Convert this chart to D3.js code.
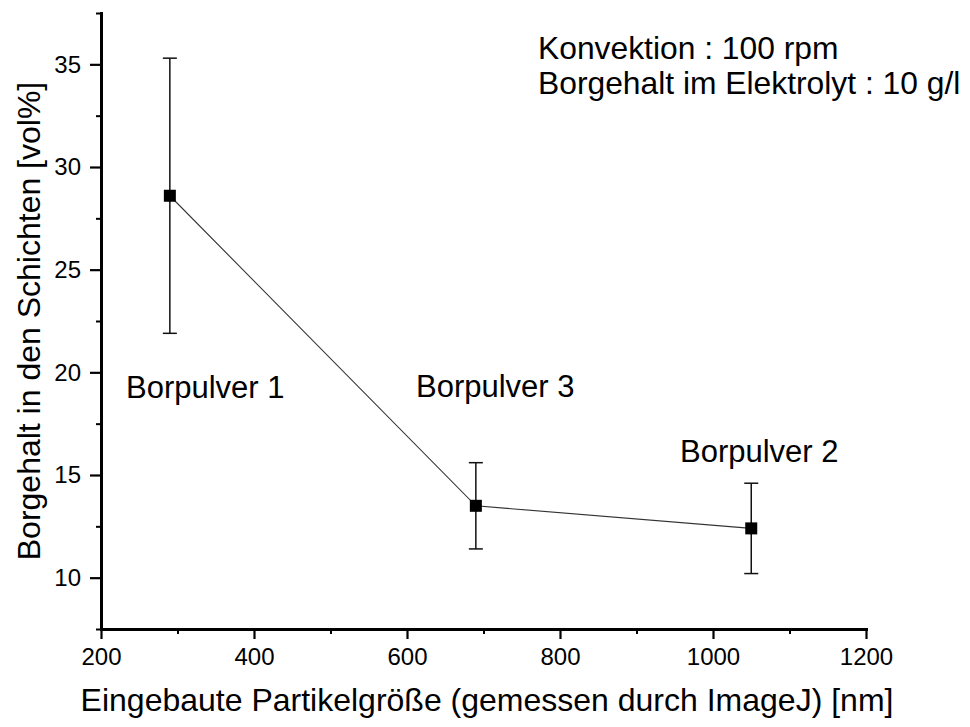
<!DOCTYPE html>
<html>
<head>
<meta charset="utf-8">
<script src="https://cdn.jsdelivr.net/npm/d3@7"></script>
<style>
  html, body { margin: 0; padding: 0; background: #fff; }
  svg { display: block; font-family: "Liberation Sans", Arial, sans-serif; }
</style>
</head>
<body>
<svg id="chart" width="970" height="727"></svg>
<script>
// Boron powder samples: embedded particle size vs. boron content in the layers
const sampleNames = ["Borpulver 1", "Borpulver 3", "Borpulver 2"];
const particleSize = [290, 690, 1050];          // nm
const boronContent = [28.6, 13.5, 12.4];        // vol%
const errorLow     = [21.9, 11.4, 10.2];
const errorHigh    = [35.3, 15.6, 14.6];

const xMajorTicks = [200, 400, 600, 800, 1000, 1200];
const xMinorTicks = [300, 500, 700, 900, 1100];
const yMajorTicks = [10, 15, 20, 25, 30, 35];
const yMinorTicks = [7.5, 12.5, 17.5, 22.5, 27.5, 32.5, 37.5];

const conditions = ["Konvektion : 100 rpm", "Borgehalt im Elektrolyt : 10 g/l"];
const xTitle = "Eingebaute Partikelgröße (gemessen durch ImageJ) [nm]";
const yTitle = "Borgehalt in den Schichten [vol%]";

const svg = d3.select("#chart");
const plotLeft = 101, plotRight = 866, plotTop = 13, plotBottom = 629;

const x = d3.scaleLinear().domain([200, 1200]).range([plotLeft, plotRight]);
const y = d3.scaleLinear().domain([7.5, 37.5]).range([plotBottom, plotTop]);

// minor ticks
svg.append("g")
  .attr("transform", `translate(0,${plotBottom})`)
  .call(d3.axisBottom(x).tickValues(xMinorTicks).tickSize(5).tickSizeOuter(0).tickFormat(""))
  .call(g => g.select(".domain").remove())
  .call(g => g.selectAll("line").attr("stroke", "#000").attr("stroke-width", 2));
svg.append("g")
  .attr("transform", `translate(${plotLeft},0)`)
  .call(d3.axisLeft(y).tickValues(yMinorTicks).tickSize(5).tickSizeOuter(0).tickFormat(""))
  .call(g => g.select(".domain").remove())
  .call(g => g.selectAll("line").attr("stroke", "#000").attr("stroke-width", 2));

// major axes
const xAxis = svg.append("g")
  .attr("transform", `translate(0,${plotBottom})`)
  .call(d3.axisBottom(x).tickValues(xMajorTicks).tickFormat(d3.format("d"))
    .tickSize(10).tickSizeOuter(0).tickPadding(3));
const yAxis = svg.append("g")
  .attr("transform", `translate(${plotLeft},0)`)
  .call(d3.axisLeft(y).tickValues(yMajorTicks).tickFormat(d3.format("d"))
    .tickSize(11).tickSizeOuter(0).tickPadding(9));

[xAxis, yAxis].forEach(g => {
  g.select(".domain").attr("stroke", "#000").attr("stroke-width", 3).attr("stroke-linecap", "square");
  g.selectAll(".tick line").attr("stroke", "#000").attr("stroke-width", 2.2);
  g.selectAll(".tick text")
    .attr("fill", "#000")
    .style("font-family", "'Liberation Sans', Arial, sans-serif")
    .style("font-size", "24px");
});
xAxis.selectAll(".tick text").attr("dy", "0.95em");

// connecting line
const pts = particleSize.map((v, i) => [v, boronContent[i]]);
svg.append("path")
  .datum(pts)
  .attr("fill", "none")
  .attr("stroke", "#333")
  .attr("stroke-width", 1.1)
  .attr("d", d3.line().x(d => x(d[0])).y(d => y(d[1])));

// error bars
const capHalf = 7;
const eb = svg.append("g").attr("stroke", "#111").attr("stroke-width", 1.5);
particleSize.forEach((v, i) => {
  eb.append("line").attr("x1", x(v)).attr("x2", x(v)).attr("y1", y(errorLow[i])).attr("y2", y(errorHigh[i]));
  eb.append("line").attr("x1", x(v) - capHalf).attr("x2", x(v) + capHalf).attr("y1", y(errorLow[i])).attr("y2", y(errorLow[i]));
  eb.append("line").attr("x1", x(v) - capHalf).attr("x2", x(v) + capHalf).attr("y1", y(errorHigh[i])).attr("y2", y(errorHigh[i]));
});

// square markers
const m = 12;
svg.append("g").selectAll("rect")
  .data(pts)
  .join("rect")
  .attr("x", d => x(d[0]) - m / 2)
  .attr("y", d => y(d[1]) - m / 2)
  .attr("width", m).attr("height", m)
  .attr("fill", "#000");

// sample labels
const labelPos = [[126, 398], [416, 397], [680, 462]];
svg.append("g").selectAll("text")
  .data(sampleNames)
  .join("text")
  .attr("x", (d, i) => labelPos[i][0])
  .attr("y", (d, i) => labelPos[i][1])
  .attr("font-size", 31)
  .attr("fill", "#000")
  .text(d => d);

// process conditions
svg.append("g").selectAll("text")
  .data(conditions)
  .join("text")
  .attr("x", 538)
  .attr("y", (d, i) => 59 + i * 35)
  .attr("font-size", 31.8)
  .attr("fill", "#000")
  .text(d => d);

// axis titles
svg.append("text")
  .attr("x", 487)
  .attr("y", 711)
  .attr("text-anchor", "middle")
  .attr("font-size", 32)
  .attr("fill", "#000")
  .text(xTitle);

svg.append("text")
  .attr("transform", `translate(40,${(plotTop + plotBottom) / 2}) rotate(-90)`)
  .attr("text-anchor", "middle")
  .attr("font-size", 32)
  .attr("fill", "#000")
  .text(yTitle);
</script>
</body>
</html>
